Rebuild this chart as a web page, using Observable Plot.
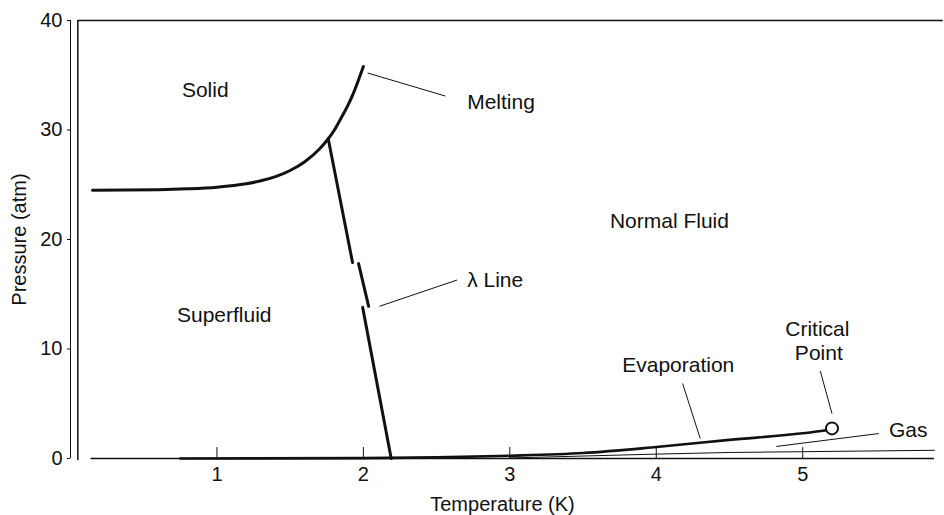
<!DOCTYPE html>
<html>
<head>
<meta charset="utf-8">
<script src="https://cdn.jsdelivr.net/npm/d3@7"></script>
<script src="https://cdn.jsdelivr.net/npm/@observablehq/plot@0.6"></script>
<style>
  html, body { margin: 0; padding: 0; background: #fff; }
</style>
</head>
<body>
<div id="chart"></div>
<script>
// Axis ticks
const xTicks = [1, 2, 3, 4, 5];
const yTicks = [0, 10, 20, 30, 40];

// Melting curve (T in K, P in atm)
const meltT = [0.15, 0.6, 0.8, 1.0, 1.2, 1.3, 1.4, 1.5, 1.6, 1.7, 1.76, 1.8, 1.84, 1.9, 1.93, 2.0];
const meltP = [24.5, 24.55, 24.63, 24.78, 25.09, 25.36, 25.74, 26.3, 27.1, 28.26, 29.2, 29.96, 30.9, 32.4, 33.3, 35.8];

// Lambda line, drawn in three pieces (as in the original figure)
const lambdaSeg = [1, 1, 2, 2, 3, 3];
const lambdaT = [1.76, 1.926, 1.967, 2.036, 1.995, 2.19];
const lambdaP = [29.2, 17.9, 17.8, 13.9, 13.8, 0];

// Evaporation (vapour pressure) curve
const evapT = [0.75, 2.0, 2.5, 3.0, 3.5, 4.0, 4.5, 5.0, 5.2];
const evapP = [0, 0.03, 0.1, 0.25, 0.5, 1.05, 1.7, 2.3, 2.65];

// Thin lower line in the gas region
const gasLineT = [3.0, 4.0, 4.5, 5.9];
const gasLineP = [0.05, 0.4, 0.55, 0.75];

// Critical point
const critT = [5.2];
const critP = [2.75];

// Region and curve labels (centre positions)
const labelText = ["Solid", "Melting", "Normal Fluid", "λ Line", "Superfluid", "Evaporation", "Critical", "Point", "Gas"];
const labelT = [0.92, 2.94, 4.09, 2.90, 1.05, 4.15, 5.10, 5.11, 5.72];
const labelP = [33.6, 32.5, 21.7, 16.3, 13.1, 8.5, 11.8, 9.6, 2.56];

// Leader lines: [T1, P1, T2, P2]
const leaderName = ["Melting", "λ Line", "Evaporation", "Critical Point", "Gas"];
const leaderT1 = [2.03, 2.11, 4.18, 5.12, 4.82];
const leaderP1 = [35.2, 13.9, 6.85, 8.0, 1.1];
const leaderT2 = [2.56, 2.64, 4.30, 5.20, 5.52];
const leaderP2 = [33.1, 16.3, 1.83, 4.1, 2.28];

// Frame extents
const frameLeftT = [0.05];
const frameTopP = [40];
const frameRightT = [5.96];
const axisStartT = [0.14];
const axisEndT = [5.9];

const melt = meltT.map((t, i) => ({T: t, P: meltP[i]}));
const lambda = lambdaT.map((t, i) => ({T: t, P: lambdaP[i], s: lambdaSeg[i]}));
const evap = evapT.map((t, i) => ({T: t, P: evapP[i]}));
const gasLine = gasLineT.map((t, i) => ({T: t, P: gasLineP[i]}));
const crit = critT.map((t, i) => ({T: t, P: critP[i]}));
const labels = labelText.map((s, i) => ({text: s, T: labelT[i], P: labelP[i]}));
const leaders = leaderName.map((n, i) => ({n, T1: leaderT1[i], P1: leaderP1[i], T2: leaderT2[i], P2: leaderP2[i]}));

const font = "'Liberation Sans', Arial, Helvetica, sans-serif";

const chart = Plot.plot({
  width: 944,
  height: 515,
  marginLeft: 70,
  marginRight: 10,
  marginTop: 20,
  marginBottom: 57,
  style: {fontFamily: font, fontSize: "20px", color: "#111", background: "#fff", overflow: "visible"},
  x: {domain: [0, 5.9], ticks: xTicks, tickSize: 0, tickPadding: 8, tickFormat: d => String(d),
      label: "Temperature (K)", labelAnchor: "center", labelOffset: 52, labelArrow: "none"},
  y: {domain: [0, 40], ticks: yTicks, tickSize: 3, tickPadding: 5, tickFormat: d => String(d),
      label: "Pressure (atm)", labelAnchor: "center", labelOffset: 59, labelArrow: "none"},
  marks: [
    // frame
    Plot.ruleX([0], {y1: 0, y2: 40, stroke: "#111", strokeWidth: 1}),
    Plot.ruleX(frameLeftT, {x: d => d, y1: -0.2, y2: 40, stroke: "#111", strokeWidth: 1.5}),
    Plot.ruleY(frameTopP, {y: d => d, x1: frameLeftT[0], x2: frameRightT[0], stroke: "#111", strokeWidth: 1.5, clip: false}),
    Plot.ruleY([0], {x1: axisStartT[0], x2: axisEndT[0], stroke: "#111", strokeWidth: 1.5}),
    // inward x ticks
    Plot.ruleX(xTicks, {x: d => d, y1: 0, y2: 1, stroke: "#111", strokeWidth: 1}),
    // thin gas line
    Plot.line(gasLine, {x: "T", y: "P", stroke: "#111", strokeWidth: 1}),
    // curves
    Plot.line(melt, {x: "T", y: "P", curve: "monotone-x", stroke: "#111", strokeWidth: 3}),
    Plot.line(lambda, {x: "T", y: "P", z: "s", stroke: "#111", strokeWidth: 3}),
    Plot.line(evap, {x: "T", y: "P", curve: "monotone-x", stroke: "#111", strokeWidth: 2.6}),
    // leader lines
    Plot.link(leaders, {x1: "T1", y1: "P1", x2: "T2", y2: "P2", stroke: "#111", strokeWidth: 1}),
    // critical point
    Plot.dot(crit, {x: "T", y: "P", r: 6, stroke: "#111", strokeWidth: 2, fill: "#fff"}),
    // labels
    Plot.text(labels, {x: "T", y: "P", text: "text", fontSize: 21, fill: "#111"})
  ]
});

document.getElementById("chart").appendChild(chart);
</script>
</body>
</html>
